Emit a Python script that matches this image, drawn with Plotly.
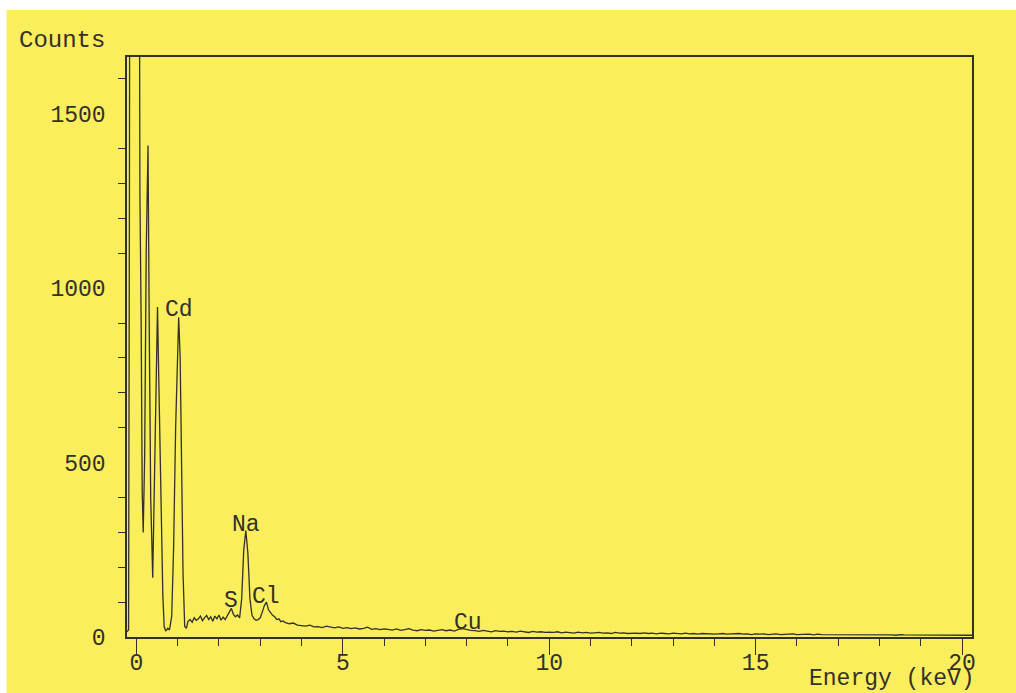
import plotly.graph_objects as go

# ---- data ----
# low-energy peak region (explicit channel positions, keV) and counts
energy_peaks = [-0.23, -0.19, -0.17, -0.155, 0.06, 0.085, 0.115, 0.14, 0.165, 0.20,
                0.237, 0.281, 0.31, 0.346, 0.395, 0.443, 0.492, 0.511, 0.54, 0.59,
                0.64, 0.673, 0.71, 0.76, 0.80, 0.855, 0.90, 0.95, 1.0, 1.024,
                1.06, 1.09, 1.13, 1.17, 1.21]
counts_peaks = [15, 20, 1200, 2600, 2600, 1271, 900, 420, 300, 520,
                1100, 1409, 900, 400, 170, 500, 880, 946, 750, 400,
                120, 30, 17, 25, 20, 60, 250, 600, 880, 917,
                800, 450, 180, 30, 25]

# 1.25 .. 3.55 keV, 0.05 keV channels (S, Na, Cl region)
mid_start, mid_step = 1.25, 0.05
counts_mid = [45, 50, 42, 55, 48, 52, 60, 47, 55, 62,
              50, 58, 45, 60, 52, 63, 48, 57, 50, 62,
              72, 82, 65, 58, 63, 55, 110, 250, 305, 240,
              110, 62, 52, 48, 50, 55, 72, 90, 100, 78,
              70, 62, 58, 50, 52, 44, 46]

# 3.6 .. 20.3 keV, 0.1 keV channels (background tail, Cu)
tail_start, tail_step = 3.6, 0.1
counts_tail = [42, 38, 40, 34, 33,
               31, 34, 29, 30, 27, 31, 28, 26, 29, 25,
               27, 24, 26, 23, 25, 28, 22, 24, 21, 23,
               22, 20, 23, 19, 21, 24, 20, 18, 21, 19,
               20, 17, 19, 21, 18, 20, 17, 22, 24, 21,
               19, 18, 16, 19, 17, 15, 18, 16, 17, 15,
               16, 14, 17, 15, 13, 16, 14, 15, 13, 14,
               13, 15, 12, 14, 13, 11, 14, 12, 13, 11,
               12, 13, 11, 12, 10, 13, 11, 12, 10, 11,
               11, 10, 12, 10, 11, 9, 11, 10, 9, 11,
               10, 9, 11, 9, 10, 8, 10, 9, 10, 8,
               9, 10, 8, 9, 8, 10, 8, 9, 7, 9,
               8, 9, 7, 8, 9, 7, 8, 7, 9, 7,
               8, 7, 8, 6, 8, 7, 7, 8, 6, 7,
               7, 6, 8, 7, 6, 7, 6, 7, 6, 7,
               6, 7, 6, 5, 7, 6, 6, 5, 7, 6,
               6, 5, 6, 6, 5, 6, 5, 6, 5, 6,
               5, 5, 5]

element_labels = ["Cd", "Na", "S", "Cl", "Cu"]
element_energy = [1.03, 2.66, 2.28, 3.14, 8.02]
element_counts = [938, 320, 102, 114, 41]

y_major = [0, 500, 1000, 1500]
y_minor = [100, 200, 300, 400, 600, 700, 800, 900, 1100, 1200, 1300, 1400, 1600]
x_major = [0, 5, 10, 15, 20]
x_minor = [1, 2, 3, 4, 6, 7, 8, 9, 11, 12, 13, 14, 16, 17, 18, 19]

energy_mid = [round(mid_start + mid_step * i, 3) for i in range(len(counts_mid))]
energy_tail = [round(tail_start + tail_step * i, 3) for i in range(len(counts_tail))]

energy = energy_peaks + energy_mid + energy_tail
counts = counts_peaks + counts_mid + counts_tail

YELLOW = "#FAEE5C"
INK = "#33302a"
FONT = "Liberation Mono"

fig = go.Figure()
fig.add_trace(go.Scatter(x=energy, y=counts, mode="lines",
                         line=dict(color=INK, width=1.3), hoverinfo="skip"))

for lab, ex, cy in zip(element_labels, element_energy, element_counts):
    fig.add_annotation(x=ex, y=cy, xref="x", yref="y", text=lab, showarrow=False,
                       font=dict(family=FONT, size=23, color=INK))

fig.add_annotation(x=-0.077, y=1.029, xref="paper", yref="paper", xanchor="center",
                   yanchor="middle", text="Counts", showarrow=False,
                   font=dict(family=FONT, size=24, color=INK))
fig.add_annotation(x=1.005, y=-0.0725, xref="paper", yref="paper", xanchor="right",
                   yanchor="middle", text="Energy (keV)", showarrow=False,
                   borderpad=0,
                   font=dict(family=FONT, size=23, color=INK))

# white scan edges
fig.add_shape(type="rect", xref="paper", yref="paper", x0=-0.16, x1=-0.1425,
              y0=-0.2, y1=1.2, fillcolor="white", line=dict(width=0), layer="below")
fig.add_shape(type="rect", xref="paper", yref="paper", x0=-0.16, x1=1.1,
              y0=1.081, y1=1.2, fillcolor="white", line=dict(width=0), layer="below")

fig.update_layout(
    width=1016, height=693,
    margin=dict(l=127, r=44, t=57, b=56),
    paper_bgcolor=YELLOW, plot_bgcolor=YELLOW,
    showlegend=False,
    font=dict(family=FONT, size=23, color=INK),
)
fig.update_xaxes(
    range=[-0.228, 20.24], showgrid=False, zeroline=False,
    showline=True, mirror=True, linecolor=INK, linewidth=1.5,
    tickmode="array", tickvals=x_major, ticktext=[str(v) for v in x_major],
    ticks="outside", ticklen=16, tickwidth=1.2, tickcolor=INK,
    ticklabelstandoff=-12,
    minor=dict(tickmode="array", tickvals=x_minor, ticks="outside",
               ticklen=7, tickwidth=1.2, tickcolor=INK, showgrid=False),
    tickfont=dict(family=FONT, size=23, color=INK),
)
fig.update_yaxes(
    range=[0, 1663], showgrid=False, zeroline=False,
    showline=True, mirror=True, linecolor=INK, linewidth=1.5,
    tickmode="array", tickvals=y_major, ticktext=[str(v) for v in y_major],
    ticks="", ticklabelstandoff=15,
    minor=dict(tickmode="array", tickvals=y_minor, ticks="outside",
               ticklen=7, tickwidth=1.2, tickcolor=INK, showgrid=False),
    tickfont=dict(family=FONT, size=23, color=INK),
)

fig.write_html("out.html", config={"displayModeBar": False},
               post_script="document.body.style.margin='0';")
